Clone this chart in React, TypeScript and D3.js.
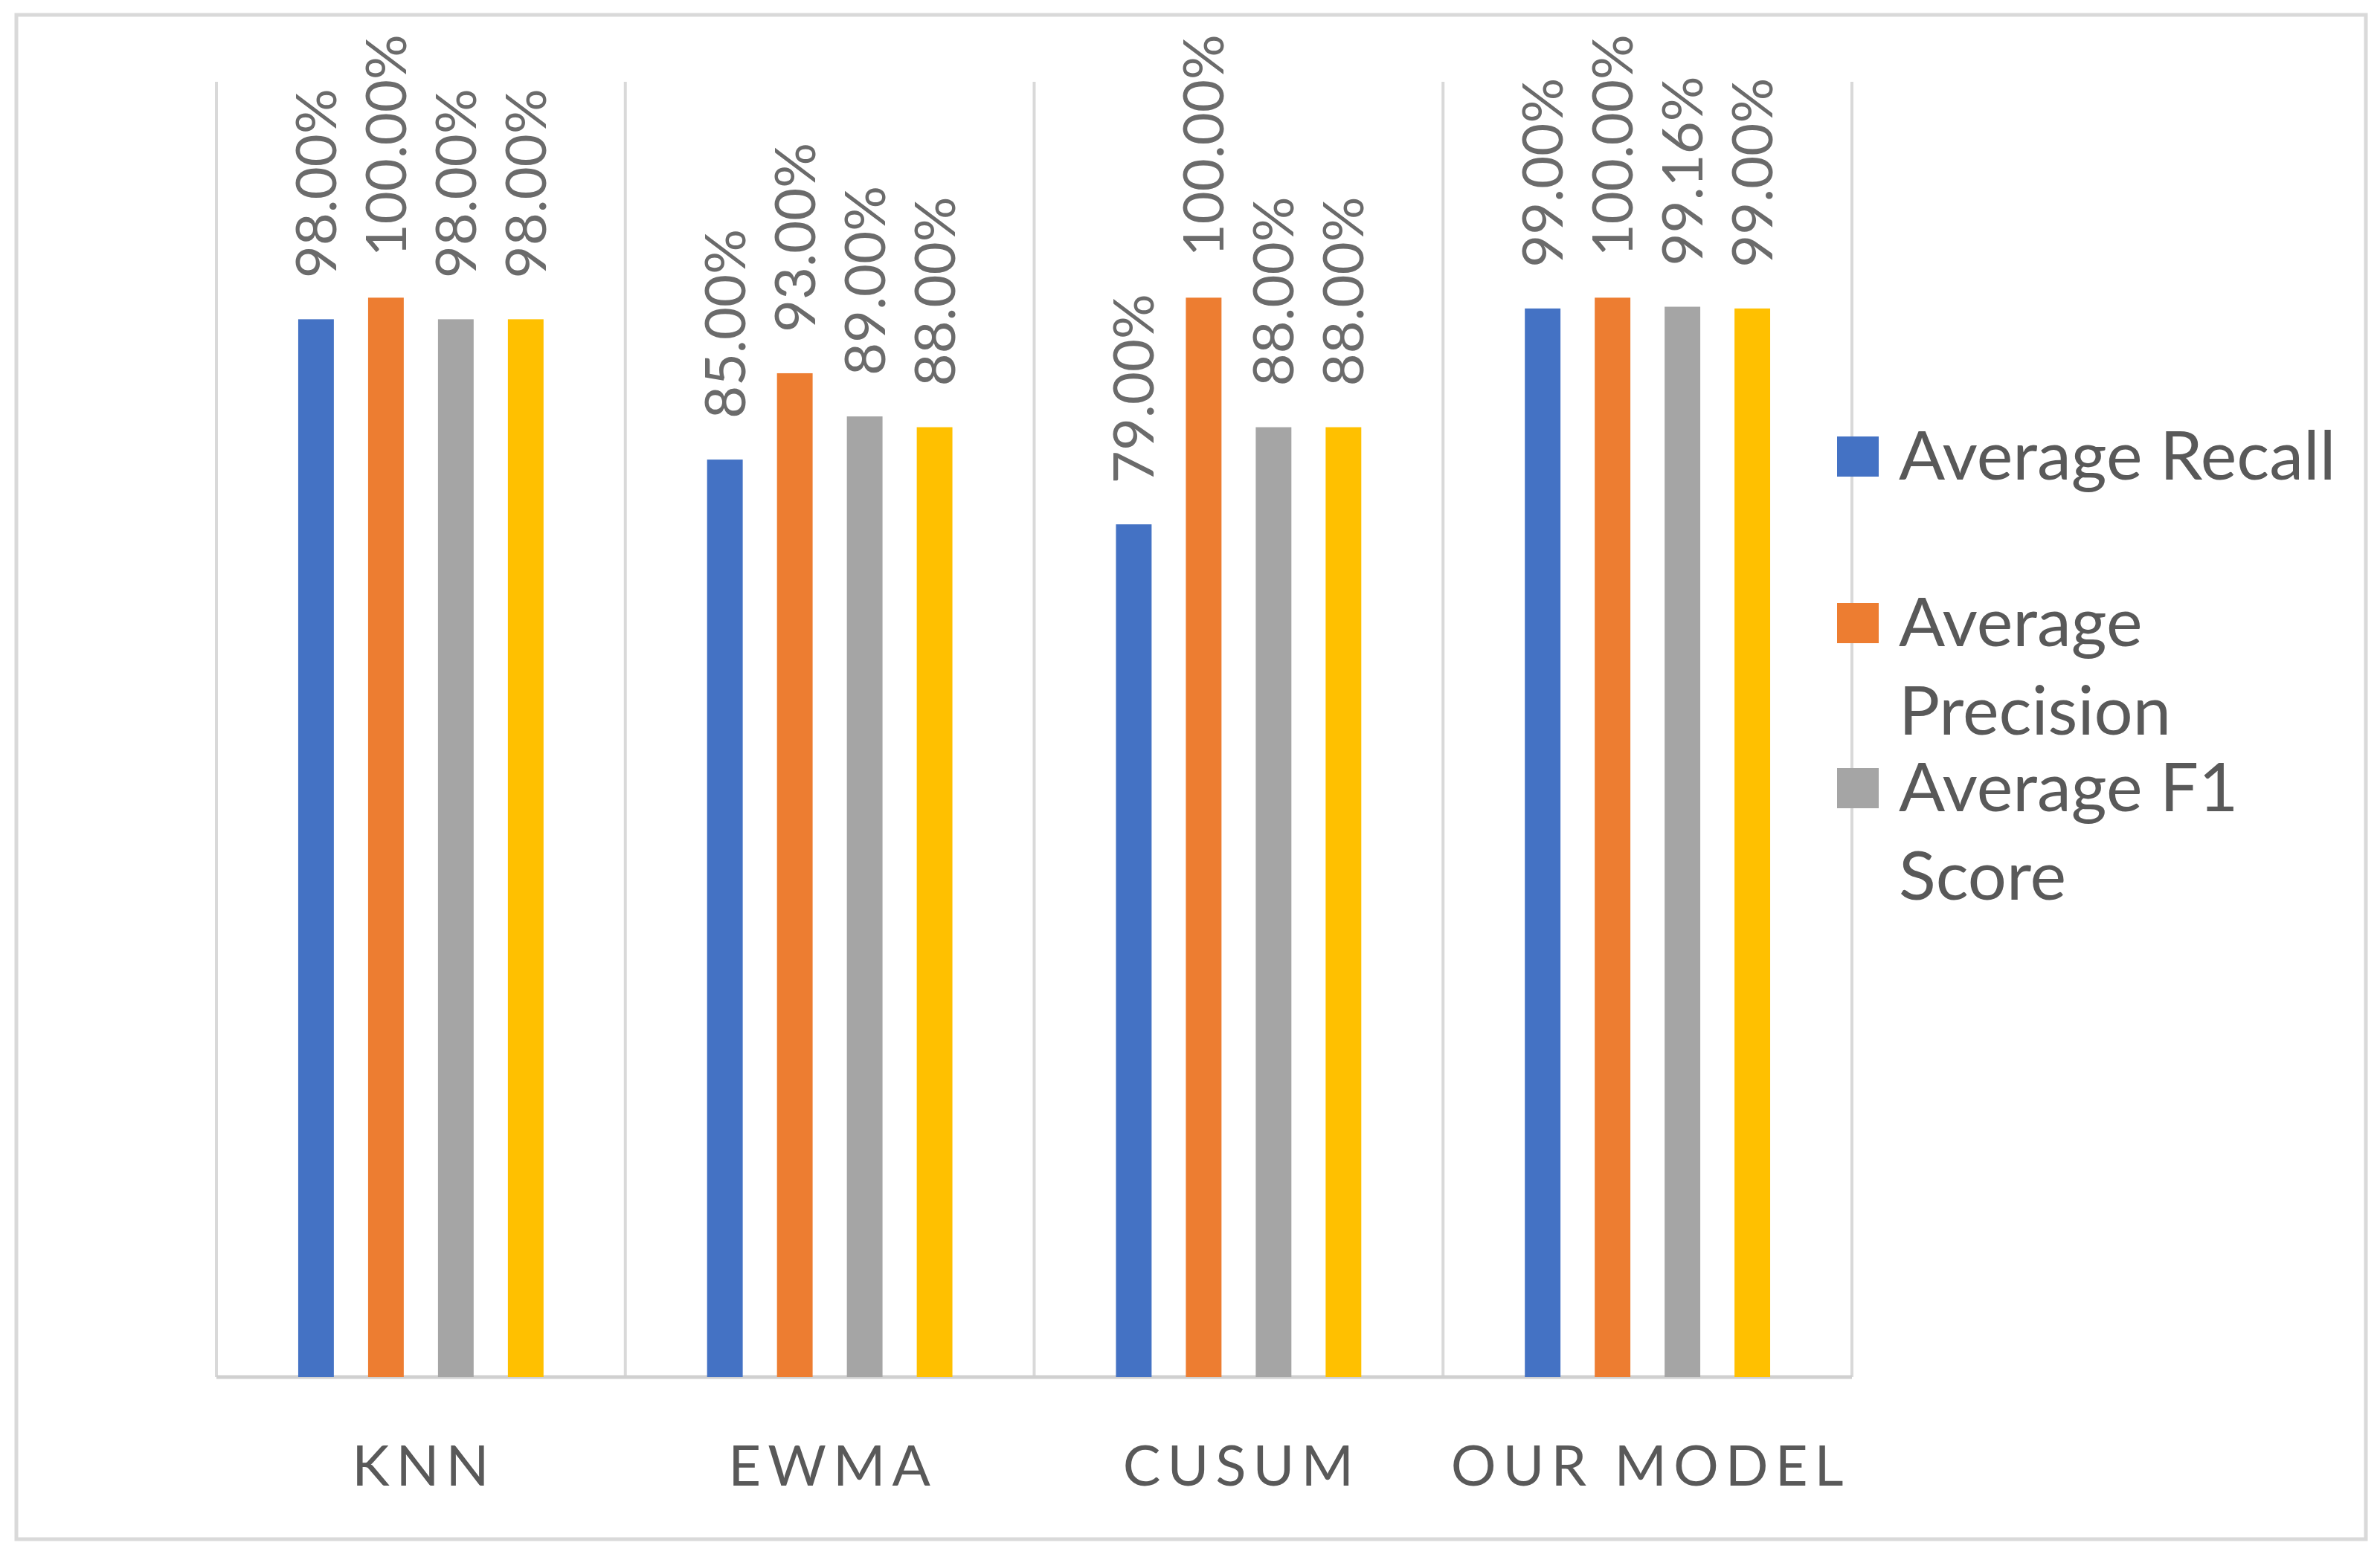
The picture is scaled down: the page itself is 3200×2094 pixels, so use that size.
import React from "react";
import * as d3 from "d3";

const categories = ["KNN", "EWMA", "CUSUM", "OUR MODEL"];
const recall = [0.98, 0.85, 0.79, 0.99];
const precision = [1.0, 0.93, 1.0, 1.0];
const f1 = [0.98, 0.89, 0.88, 0.9916];
const fourth = [0.98, 0.88, 0.88, 0.99];
const seriesColors = ["#4472C4", "#ED7D31", "#A5A5A5", "#FFC000"];
const legendLines = [["Average Recall"], ["Average", "Precision"], ["Average F1", "Score"]];

const W = 3200;
const H = 2094;
const FONT = "Lato, 'Open Sans', sans-serif";

export default function App() {
  const series = [recall, precision, f1, fourth];
  const x0 = d3.scaleBand<string>().domain(categories).range([291, 2490]).padding(0);
  const x1 = d3
    .scaleBand<number>()
    .domain(d3.range(series.length))
    .range([0, x0.bandwidth()])
    .paddingInner(0.49)
    .paddingOuter(1.17);
  const y = d3.scaleLinear().domain([0, 1.2]).range([1852, 110]);
  const fmt = d3.format(".2%");
  const gridXs = [...categories.map((c) => x0(c) as number), 2490];

  const legendY = [614, 838, 1060];

  return (
    <svg
      width={W}
      height={H}
      viewBox={`0 0 ${W} ${H}`}
      style={{ position: "absolute", left: 0, top: 0, background: "#fff" }}
    >
      <rect x={0} y={0} width={W} height={H} fill="#fff" />
      <rect x={22} y={20} width={3159} height={2050} fill="#fff" stroke="#d9d9d9" strokeWidth={5} />
      {gridXs.map((gx, i) => (
        <line key={i} x1={gx} x2={gx} y1={y(1.2)} y2={y(0)} stroke="#d9d9d9" strokeWidth={4} />
      ))}
      <line x1={291} x2={2490} y1={y(0)} y2={y(0)} stroke="#d0d0d0" strokeWidth={5} />
      {categories.map((c, ci) => (
        <g key={c}>
          {series.map((s, si) => {
            const bx = (x0(c) as number) + (x1(si) as number);
            const bw = x1.bandwidth();
            const top = y(s[ci]);
            const cx = bx + bw / 2;
            const ly = top - 55;
            return (
              <g key={si}>
                <rect x={bx} y={top} width={bw} height={y(0) - top} fill={seriesColors[si]} />
                <text
                  x={cx + 27}
                  y={ly}
                  transform={`rotate(-90 ${cx + 27} ${ly})`}
                  fontFamily={FONT}
                  fontSize={76}
                  fill="#6b6b6b"
                  textAnchor="start"
                >
                  {fmt(s[ci])}
                </text>
              </g>
            );
          })}
          <text
            x={(x0(c) as number) + x0.bandwidth() / 2 + 4}
            y={1998}
            textAnchor="middle"
            fontFamily={FONT}
            fontSize={76}
            letterSpacing={9}
            fill="#595959"
          >
            {c}
          </text>
        </g>
      ))}
      {legendLines.map((lines, i) => (
        <g key={i}>
          <rect x={2470} y={legendY[i] - 27} width={56} height={54} fill={seriesColors[i]} />
          {lines.map((t, li) => (
            <text
              key={li}
              x={2553}
              y={legendY[i] + 31 + li * 119}
              fontFamily={FONT}
              fontSize={92}
              fill="#595959"
            >
              {t}
            </text>
          ))}
        </g>
      ))}
    </svg>
  );
}
